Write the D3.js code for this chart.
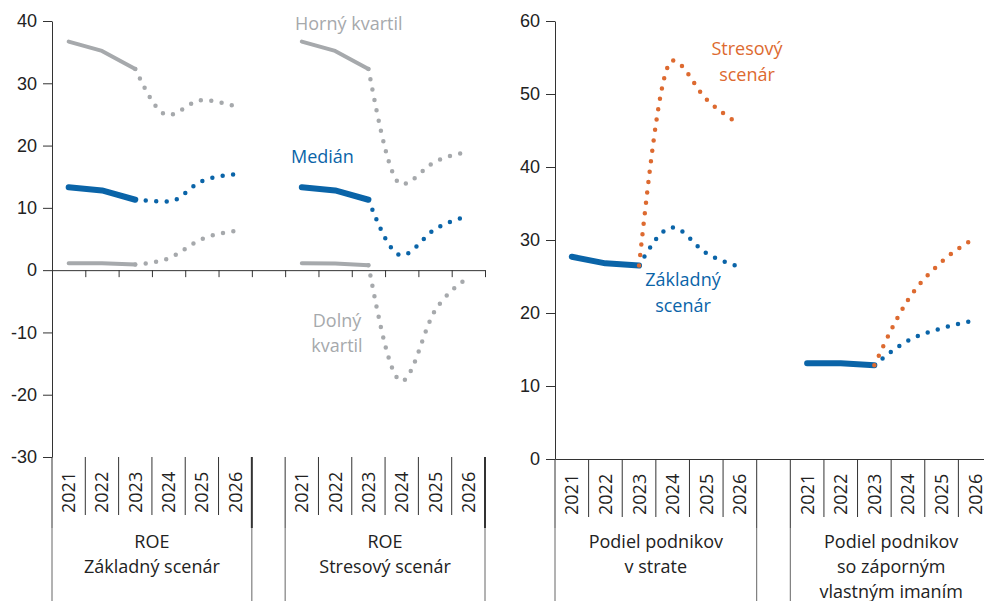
<!DOCTYPE html>
<html>
<head>
<meta charset="utf-8">
<script src="https://cdn.jsdelivr.net/npm/d3@7"></script>
<style>
  body { margin: 0; background: #fff; }
  svg { font-family: "Open Sans", "Noto Sans", sans-serif; }
  .axis text { font-size: 18px; fill: #222; }
  .axis path, .axis line { stroke: #333; }
</style>
</head>
<body>
<div id="chart"></div>
<script>
// years on the category axis
var years = ["2021", "2022", "2023", "2024", "2025", "2026"];

// ROE, basic scenario (left group)
var roeBaseUpper  = [36.7, 35.2, 32.3, 24.9, 27.3, 26.3];
var roeBaseMedian = [13.3, 12.8, 11.3, 11.0, 14.3, 15.4];
var roeBaseLower  = [1.1, 1.1, 0.9, 1.9, 5.0, 6.3];

// ROE, stress scenario
var roeStressUpper  = [36.7, 35.2, 32.3, 13.8, 17.4, 19.0];
var roeStressMedian = [13.3, 12.8, 11.3, 2.4, 6.6, 8.7];
var roeStressLower  = [1.1, 1.05, 0.8, -17.8, -6.5, -1.2];

// share of firms with loss
var lossBase   = [27.7, 26.8, 26.5, 31.7, 28.2, 26.3];
var lossStress = [27.7, 26.8, 26.5, 54.6, 49.3, 45.8];

// share of firms with negative equity
var negBase   = [13.1, 13.1, 12.85, 16.2, 17.9, 19.0];
var negStress = [13.1, 13.1, 12.85, 21.8, 27.0, 30.3];

var leftTicks = [-30, -20, -10, 0, 10, 20, 30, 40];
var rightTicks = [0, 10, 20, 30, 40, 50, 60];

var GRAY = "#a6a9ac", BLUE = "#0a64a8", ORANGE = "#dd6a30";

var width = 984, height = 601;

var svg = d3.select("#chart")
    .append("svg")
    .attr("width", width)
    .attr("height", height);

// slot keys: group A years, a gap, group B years
function slots(a, b) {
    return years.map(function(y) { return a + y; })
        .concat(["gap"])
        .concat(years.map(function(y) { return b + y; }));
}

function panel(opt) {
    var x = d3.scaleBand().domain(slots("A", "B")).range([opt.x0, opt.x1]);
    var idx = d3.scaleLinear().domain([0, 13]).range([opt.x0, opt.x1]);
    var y = d3.scaleLinear().domain(opt.domain).range([opt.yBottom, 21]);
    var g = svg.append("g");

    // y axis (plain hyphen for negatives)
    g.append("g")
        .attr("class", "axis")
        .attr("transform", "translate(" + opt.x0 + ",0)")
        .call(d3.axisLeft(y).tickValues(opt.ticks).tickSize(9).tickPadding(6)
            .tickSizeOuter(0).tickFormat(function(d) { return String(d); }));

    // zero line with slot ticks
    g.append("g")
        .attr("class", "axis")
        .attr("transform", "translate(0," + y(0) + ")")
        .call(d3.axisBottom(idx).tickValues(d3.range(14)).tickSize(opt.zeroTick)
            .tickSizeOuter(0).tickFormat(""));

    // category separators below the plot
    var yb = opt.yBottom;
    d3.range(14).forEach(function(i) {
        var edge = (i === 0 || i === 6 || i === 7 || i === 13);
        if (edge) {
            g.append("line")
                .attr("x1", idx(i)).attr("x2", idx(i))
                .attr("y1", yb).attr("y2", 528)
                .attr("stroke", "#333")
                .attr("stroke-width", (i === 6 || i === 13) && opt.thickEnd ? 2 : 1);
            g.append("line")
                .attr("x1", idx(i)).attr("x2", idx(i))
                .attr("y1", 528).attr("y2", height)
                .attr("stroke", "#666").attr("stroke-width", 1);
        } else {
            g.append("line")
                .attr("x1", idx(i)).attr("x2", idx(i))
                .attr("y1", yb).attr("y2", yb + 58)
                .attr("stroke", "#333").attr("stroke-width", 1);
        }
    });

    // year labels
    ["A", "B"].forEach(function(p) {
        years.forEach(function(yr) {
            var cx = x(p + yr) + x.bandwidth() / 2;
            g.append("text")
                .attr("transform", "translate(" + cx + "," + (yb + 56) + ") rotate(-90)")
                .attr("dy", "0.36em")
                .attr("font-size", 18)
                .attr("fill", "#222")
                .text(yr);
        });
    });

    // group labels
    [["A", opt.labelA], ["B", opt.labelB]].forEach(function(pair) {
        var cx = (x(pair[0] + "2021") + x(pair[0] + "2026") + x.bandwidth()) / 2;
        pair[1].forEach(function(t, k) {
            g.append("text")
                .attr("x", cx).attr("y", 548 + k * 25)
                .attr("text-anchor", "middle")
                .attr("font-size", 18)
                .attr("fill", "#222")
                .text(t);
        });
    });

    opt.series.forEach(function(s) {
        var pts = s.values.map(function(v, i) { return {i: i, v: v}; });
        var px = function(d) { return x(s.group + years[d.i]) + x.bandwidth() / 2; };
        var py = function(d) { return y(d.v); };
        if (s.solid) {
            g.append("path")
                .attr("d", d3.line().x(px).y(py)(pts.slice(0, 3)))
                .attr("fill", "none")
                .attr("stroke", s.color)
                .attr("stroke-width", s.width)
                .attr("stroke-linecap", "round")
                .attr("stroke-linejoin", "round");
        }
        g.append("path")
            .attr("d", d3.line().x(px).y(py).curve(d3.curveMonotoneX)(pts.slice(2)))
            .attr("fill", "none")
            .attr("stroke", s.color)
            .attr("stroke-width", 4.5)
            .attr("stroke-linecap", "round")
            .attr("stroke-dasharray", "0,10.5");
    });
}

panel({
    x0: 52, x1: 485, yBottom: 457, domain: [-30, 40], ticks: leftTicks,
    zeroTick: 7, thickEnd: true,
    labelA: ["ROE", "Základný scenár"],
    labelB: ["ROE", "Stresový scenár"],
    series: [
        {group: "A", values: roeBaseUpper, color: GRAY, width: 4, solid: true},
        {group: "A", values: roeBaseLower, color: GRAY, width: 4, solid: true},
        {group: "A", values: roeBaseMedian, color: BLUE, width: 6, solid: true},
        {group: "B", values: roeStressUpper, color: GRAY, width: 4, solid: true},
        {group: "B", values: roeStressLower, color: GRAY, width: 4, solid: true},
        {group: "B", values: roeStressMedian, color: BLUE, width: 6, solid: true}
    ]
});

panel({
    x0: 555, x1: 992, yBottom: 459, domain: [0, 60], ticks: rightTicks,
    zeroTick: 0, thickEnd: false,
    labelA: ["Podiel podnikov", "v strate"],
    labelB: ["Podiel podnikov", "so záporným", "vlastným imaním"],
    series: [
        {group: "A", values: lossBase, color: BLUE, width: 6, solid: true},
        {group: "A", values: lossStress, color: ORANGE, width: 6, solid: false},
        {group: "B", values: negBase, color: BLUE, width: 6, solid: true},
        {group: "B", values: negStress, color: ORANGE, width: 6, solid: false}
    ]
});

// series labels
function label(txt, x, y, color, anchor) {
    svg.append("text")
        .attr("x", x).attr("y", y)
        .attr("text-anchor", anchor || "start")
        .attr("font-size", 18)
        .attr("fill", color)
        .text(txt);
}
label("Horný kvartil", 295, 30, GRAY);
label("Medián", 291, 163, BLUE);
label("Dolný", 337, 327, GRAY, "middle");
label("kvartil", 337, 352, GRAY, "middle");
label("Stresový", 747, 55, ORANGE, "middle");
label("scenár", 747, 81, ORANGE, "middle");
label("Základný", 683, 286, BLUE, "middle");
label("scenár", 683, 312, BLUE, "middle");
</script>
</body>
</html>
